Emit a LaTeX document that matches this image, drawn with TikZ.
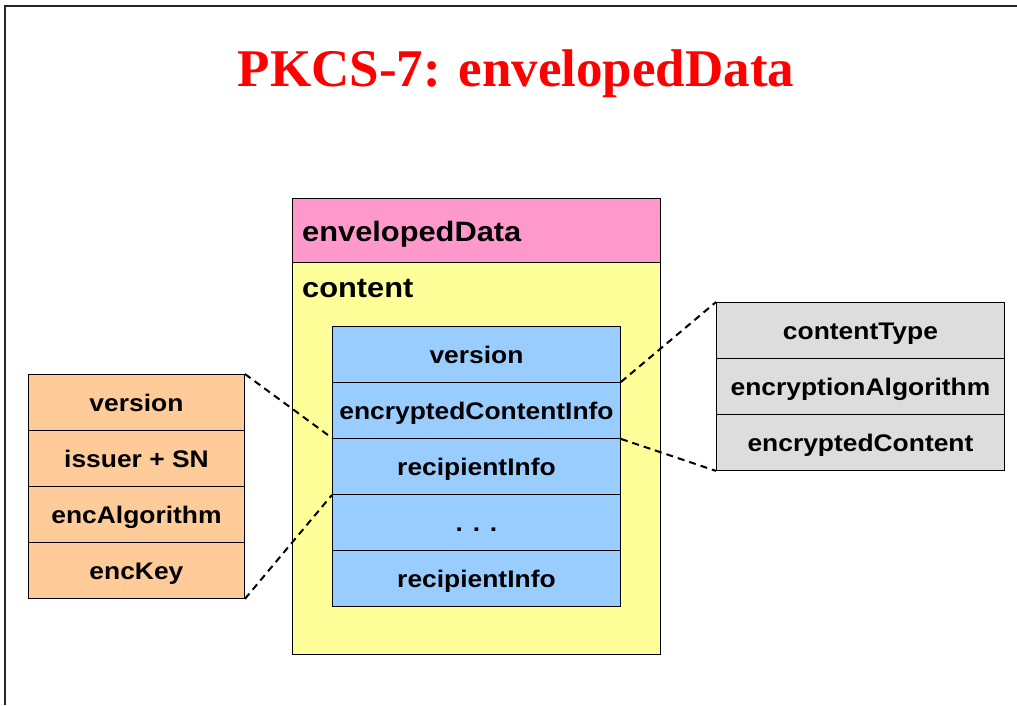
\documentclass[tikz,border=0pt]{standalone}
\usepackage{fontspec}
\newfontfamily\boxfont{Liberation Sans}[FakeStretch=1.1]
\newfontfamily\headfont{Liberation Serif}
\definecolor{pinkhdr}{HTML}{FF99CC}
\definecolor{yellowbg}{HTML}{FFFF99}
\definecolor{bluecell}{HTML}{99CCFF}
\definecolor{orangecell}{HTML}{FFCC99}
\definecolor{graycell}{HTML}{DDDDDD}
\tikzset{
  cell/.style={draw=black, line width=0.9pt, inner sep=0pt, anchor=north west,
    text height=18pt, text depth=0pt,
    font=\boxfont\bfseries\fontsize{24}{28}\selectfont},
  bluebox/.style={cell, fill=bluecell, minimum width=288pt, minimum height=56pt},
  orangebox/.style={cell, fill=orangecell, minimum width=216pt, minimum height=56pt},
  graybox/.style={cell, fill=graycell, minimum width=288pt, minimum height=56pt},
  link/.style={dashed, line width=2pt, dash pattern=on 7pt off 5pt},
}
\begin{document}
\begin{tikzpicture}[x=1pt, y=-1pt]
\useasboundingbox (0,0) rectangle (1017,705);
% slide frame
\draw[line width=1.6pt, black!85] (5,705) -- (5,6) -- (1017,6);

% title
\node[text=red, font=\headfont\bfseries\fontsize{53}{60}\selectfont, anchor=base] (title) at (516,86) {PKCS-7: envelopedData};

% envelopedData container
\node[cell, fill=yellowbg, minimum width=368pt, minimum height=392pt] (content) at (292,262) {};
\node[cell, fill=pinkhdr, minimum width=368pt, minimum height=64pt] (hdr) at (292,198) {};
\node[font=\boxfont\bfseries\fontsize{28}{32}\selectfont, anchor=base west, inner sep=0pt] (hdrlbl) at (302,241) {envelopedData};
\node[font=\boxfont\bfseries\fontsize{28}{32}\selectfont, anchor=base west, inner sep=0pt] (contlbl) at (302,297) {content};

% content fields
\node[bluebox] (b1) at (332,326) {version};
\node[bluebox] (b2) at (332,382) {encryptedContentInfo};
\node[bluebox] (b3) at (332,438) {recipientInfo};
\node[bluebox] (b4) at (332,494) {. . .};
\node[bluebox] (b5) at (332,550) {recipientInfo};

% recipientInfo fields
\node[orangebox] (o1) at (28,374) {version};
\node[orangebox] (o2) at (28,430) {issuer + SN};
\node[orangebox] (o3) at (28,486) {encAlgorithm};
\node[orangebox] (o4) at (28,542) {encKey};

% encryptedContentInfo fields
\node[graybox] (g1) at (716,302) {contentType};
\node[graybox] (g2) at (716,358) {encryptionAlgorithm};
\node[graybox] (g3) at (716,414) {encryptedContent};

% expansion lines
\draw[link] (o1.north east) -- (b3.north west);
\draw[link] (o4.south east) -- (b3.south west);
\draw[link] (b2.north east) -- (g1.north west);
\draw[link] (b2.south east) -- (g3.south west);
\end{tikzpicture}
\end{document}
